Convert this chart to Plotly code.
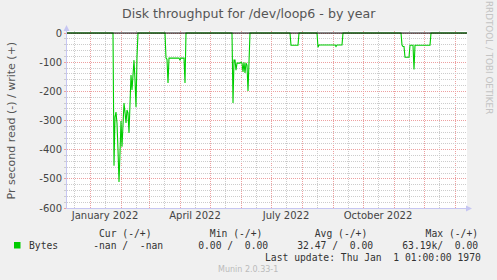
import plotly.graph_objects as go

# ---------------- data ----------------
dates = [
    "2021-12-09",
    "2022-01-24", "2022-01-25", "2022-01-26", "2022-01-27", "2022-01-28", "2022-01-29",
    "2022-01-30", "2022-01-31", "2022-02-01", "2022-02-02", "2022-02-03", "2022-02-04",
    "2022-02-05", "2022-02-06", "2022-02-07", "2022-02-08", "2022-02-09", "2022-02-10",
    "2022-02-11", "2022-02-12", "2022-02-13", "2022-02-14", "2022-02-15", "2022-02-16",
    "2022-02-17", "2022-02-18",
    "2022-03-17", "2022-03-18", "2022-03-19", "2022-03-20", "2022-03-21", "2022-03-31",
    "2022-04-01", "2022-04-02", "2022-04-05", "2022-04-06", "2022-04-07",
    "2022-05-23", "2022-05-24", "2022-05-25", "2022-05-26", "2022-05-27", "2022-05-28",
    "2022-05-31", "2022-06-01", "2022-06-02", "2022-06-03", "2022-06-04", "2022-06-05",
    "2022-06-06", "2022-06-07", "2022-06-08", "2022-06-10",
    "2022-07-20", "2022-07-21", "2022-07-28", "2022-07-29",
    "2022-08-16", "2022-08-17", "2022-08-18", "2022-09-03", "2022-09-04", "2022-09-05",
    "2022-09-10", "2022-09-11",
    "2022-11-08", "2022-11-09", "2022-11-10", "2022-11-11", "2022-11-12", "2022-11-16",
    "2022-11-17", "2022-11-20", "2022-11-21", "2022-11-22", "2022-12-07", "2022-12-08",
    "2023-01-13",
]
read_bytes = [
    0,
    0, -455, -288, -271, -310, -400,
    -511, -411, -302, -390, -298, -240,
    -271, -308, -264, -274, -343, -230,
    -144, -195, -137, -93, -161, -254,
    -82, 0,
    0, -86, -90, -171, -86, -86,
    -93, -86, -86, -171, 0,
    0, -240, -93, -93, -127, -103,
    -103, -100, -103, -133, -100, -137,
    -103, -110, -199, 0,
    0, -42, -42, 0,
    0, -49, -41, -41, -46, -41,
    -41, 0,
    0, -41, -46, -46, -83, -83,
    -42, -42, -125, -42, -42, 0,
    0,
]

x_range = ["2021-12-09", "2023-01-13"]
mid_month_ticks = [
    "2021-12-16", "2022-01-16", "2022-02-16", "2022-03-16", "2022-04-16",
    "2022-05-16", "2022-06-16", "2022-07-16", "2022-08-16", "2022-09-16",
    "2022-10-16", "2022-11-16", "2022-12-16",
]
mid_month_labels = [
    "", "January 2022", "", "", "April 2022", "", "", "July 2022", "", "",
    "October 2022", "", "",
]
y_ticks = [0, -100, -200, -300, -400, -500, -600]
y_tick_labels = ["0", "-100", "-200", "-300", "-400", "-500", "-600"]

title = "Disk throughput for /dev/loop6 - by year"
y_title = "Pr second read (-) / write (+)"
legend_header = ["Cur (-/+)", "Min (-/+)", "Avg (-/+)", "Max (-/+)"]
series_name = "Bytes"
legend_values = ["-nan /  -nan", "0.00 /  0.00", "32.47 /  0.00", "63.19k/  0.00"]
last_update = "Last update: Thu Jan  1 01:00:00 1970"
footer = "Munin 2.0.33-1"
side_text = "RRDTOOL / TOBI OETIKER"

# ---------------- layout geometry ----------------
W, H = 497, 280
L, R, T, B = 67, 30, 31, 72
PW, PH = W - L - R, H - T - B


def px(xp):
    return (xp - L) / PW


def py(yp):
    return (H - B - yp) / PH


GREEN = "#00CC00"
RED_GRID = "#EDA0A0"
GRAY_GRID = "#CCCCCC"
AXIS = "#C6C6F2"
DOT = "1px,1px"

fig = go.Figure()
fig.add_trace(go.Scatter(
    x=dates, y=read_bytes, mode="lines",
    line=dict(color=GREEN, width=1.1), hoverinfo="skip",
))

fig.update_layout(
    width=W, height=H,
    margin=dict(l=L, r=R, t=T, b=B, autoexpand=False),
    paper_bgcolor="#F0F0F0", plot_bgcolor="white",
    showlegend=False,
    font=dict(family="DejaVu Sans", size=10, color="#444"),
)

fig.update_xaxes(
    type="date", range=x_range,
    tickmode="array", tickvals=mid_month_ticks, ticktext=mid_month_labels,
    showgrid=True, gridcolor=GRAY_GRID, griddash=DOT, gridwidth=1,
    ticks="", showline=False, zeroline=False,
    tickfont=dict(family="DejaVu Sans", size=10, color="#444"),
    minor=dict(dtick="M1", tick0="2022-01-01", showgrid=True,
               gridcolor=RED_GRID, griddash=DOT, gridwidth=1, ticks=""),
)
fig.update_yaxes(
    range=[-600, 7],
    tickmode="array", tickvals=y_ticks, ticktext=y_tick_labels,
    showgrid=True, gridcolor=RED_GRID, griddash=DOT, gridwidth=1,
    ticks="outside", ticklen=2, tickcolor=RED_GRID,
    showline=False, zeroline=False,
    tickfont=dict(family="DejaVu Sans", size=10, color="#444"),
    minor=dict(dtick=20, tick0=0, showgrid=True, gridcolor=GRAY_GRID,
               griddash=DOT, gridwidth=1, ticks="outside", ticklen=2,
               tickcolor=GRAY_GRID),
)

shapes = []
# zero rule
shapes.append(dict(type="line", xref="paper", yref="y", x0=0, x1=1, y0=0, y1=0,
                   line=dict(color="black", width=1), layer="above"))
# axes lines with arrows
shapes.append(dict(type="line", xref="paper", yref="paper",
                   x0=px(66.5), x1=px(66.5), y0=py(208.5), y1=py(29),
                   line=dict(color=AXIS, width=1), layer="above"))
shapes.append(dict(type="line", xref="paper", yref="paper",
                   x0=px(66), x1=px(468), y0=py(208.5), y1=py(208.5),
                   line=dict(color=AXIS, width=1), layer="above"))
shapes.append(dict(type="path", xref="paper", yref="paper",
                   path=f"M {px(63.5)},{py(31)} L {px(69.5)},{py(31)} L {px(66.5)},{py(25)} Z",
                   fillcolor=AXIS, line=dict(width=0), layer="above"))
shapes.append(dict(type="path", xref="paper", yref="paper",
                   path=f"M {px(466)},{py(205.5)} L {px(466)},{py(211.5)} L {px(472)},{py(208.5)} Z",
                   fillcolor=AXIS, line=dict(width=0), layer="above"))
# legend swatch
shapes.append(dict(type="rect", xref="paper", yref="paper",
                   x0=px(14), x1=px(20.5), y0=py(248.5), y1=py(242),
                   fillcolor=GREEN, line=dict(width=0)))
fig.update_layout(shapes=shapes)

MONO = dict(family="DejaVu Sans Mono", size=9.7, color="#333")
NB = "\u00a0"


def nb(s):
    return s.replace(" ", NB)


header_line = (" " * 12 + legend_header[0] + " " * 10 + legend_header[1] + " " * 9
               + legend_header[2] + " " * 10 + legend_header[3])
value_line = (series_name + " " * 6 + legend_values[0] + " " * 6 + legend_values[1]
              + " " * 5 + legend_values[2] + " " * 5 + legend_values[3])

ann = [
    dict(text=title, x=px(248.5), y=py(13), xanchor="center", yanchor="middle",
         font=dict(family="DejaVu Sans", size=12.6, color="#555")),
    dict(text=y_title, x=px(10.5), y=py(121), xanchor="center", yanchor="middle",
         textangle=-90, font=dict(family="DejaVu Sans", size=11, color="#555")),
    dict(text=side_text, x=px(489), y=py(57), xanchor="center", yanchor="middle",
         textangle=90, font=dict(family="DejaVu Sans", size=8.8, color="#C4C4C4")),
    dict(text=nb(header_line), x=px(27), y=py(233), xanchor="left", yanchor="middle",
         font=MONO),
    dict(text=nb(value_line), x=px(27), y=py(245.5), xanchor="left", yanchor="middle",
         font=MONO),
    dict(text=nb(last_update), x=px(483), y=py(257.5), xanchor="right", yanchor="middle",
         font=MONO),
    dict(text=footer, x=px(248), y=py(269), xanchor="center", yanchor="middle",
         font=dict(family="DejaVu Sans", size=8, color="#BBBBBB")),
]
for a in ann:
    a.update(xref="paper", yref="paper", showarrow=False)
fig.update_layout(annotations=ann)

fig.write_html("out.html")
